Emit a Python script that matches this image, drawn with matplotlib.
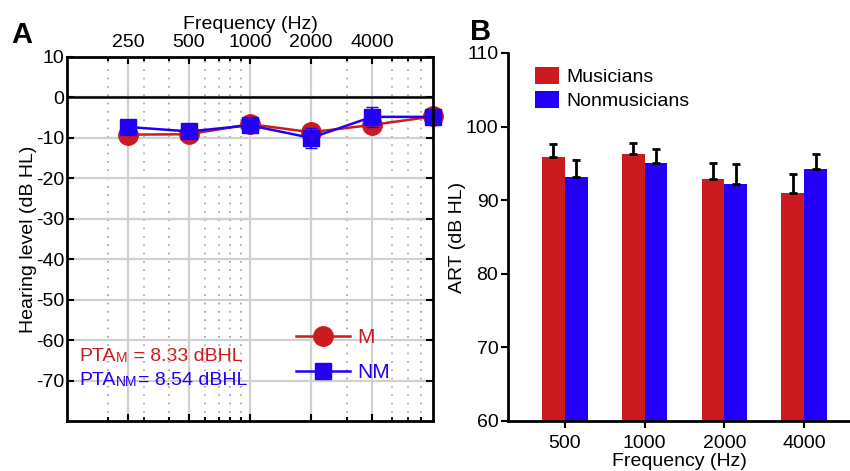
import matplotlib
matplotlib.use("Agg")
import matplotlib.pyplot as plt
from matplotlib.lines import Line2D
import numpy as np

plt.rcParams['font.family'] = ['Liberation Sans', 'DejaVu Sans']

# ---- Panel A data ----
freqs_a = [250, 500, 1000, 2000, 4000, 8000]
top_labels = ['250', '500', '1000', '2000', '4000']
m_vals = [-9.2, -9.1, -6.6, -8.6, -6.8, -4.7]
m_err = [1.2, 1.2, 1.2, 1.2, 1.5, 1.2]
nm_vals = [-7.3, -8.4, -6.9, -10.0, -4.8, -4.8]
nm_err = [1.0, 1.2, 1.0, 2.4, 2.5, 1.0]
minor_freqs = [200, 300, 400, 600, 700, 800, 900, 3000, 5000, 6000, 7000]
y_ticks_a = [10, 0, -10, -20, -30, -40, -50, -60, -70]

# ---- Panel B data ----
cats_b = ['500', '1000', '2000', '4000']
mus_vals = [95.9, 96.3, 92.9, 91.0]
mus_err = [1.8, 1.5, 2.1, 2.5]
non_vals = [93.2, 95.0, 92.2, 94.2]
non_err = [2.2, 1.9, 2.7, 2.1]

RED = '#CC1B1F'
BLUE = '#2200F5'
FS = 14

fig = plt.figure(figsize=(8.5, 4.71), dpi=100)

# ================= Panel A =================
axA = fig.add_axes([67/850, 1-421/471, 366/850, 364/471])
axA.set_axisbelow(True)
axA.set_xscale('log', base=2)
axA.set_xlim(125, 8000)
axA.set_ylim(-80, 10)

axA.set_xticks(freqs_a[:-1])
axA.set_xticklabels(top_labels)
axA.set_xticks(minor_freqs, minor=True)
axA.xaxis.set_minor_formatter(matplotlib.ticker.NullFormatter())
axA.set_yticks(y_ticks_a)
axA.set_yticklabels([str(v) for v in y_ticks_a])
axA.yaxis.set_minor_locator(matplotlib.ticker.NullLocator())

axA.grid(True, which='major', color='#d0d0d0', lw=1.6)
axA.grid(True, which='minor', axis='x', color='#a0a0a0', lw=1.2, ls=(0, (1, 4)))
axA.axhline(0, color='black', lw=1.8, zorder=2)

axA.xaxis.set_label_position('top')
axA.tick_params(axis='x', which='both', top=True, bottom=True, labeltop=True,
                labelbottom=False, direction='in', labelsize=FS, pad=4)
axA.tick_params(axis='x', which='major', length=5, width=1.5)
axA.tick_params(axis='x', which='minor', length=3, width=1.5)
axA.tick_params(axis='y', which='both', left=True, right=True, direction='in',
                labelsize=FS, length=5, width=1.5, pad=2)
for s in axA.spines.values():
    s.set_linewidth(2.0)
    s.set_zorder(5)
axA.set_xlabel('Frequency (Hz)', fontsize=FS, labelpad=4)
axA.set_ylabel('Hearing level (dB HL)', fontsize=FS, labelpad=-1)

axA.errorbar(freqs_a, m_vals, yerr=m_err, color=RED, marker='o', ms=14, lw=1.8,
             elinewidth=1.5, capsize=4, zorder=3, clip_on=False)
axA.errorbar(freqs_a, nm_vals, yerr=nm_err, color=BLUE, marker='s', ms=11, lw=1.8,
             elinewidth=1.5, capsize=4, zorder=4, clip_on=False)

handles = [Line2D([], [], color=RED, marker='o', ms=14, lw=1.8),
           Line2D([], [], color=BLUE, marker='s', ms=11, lw=1.8)]
axA.legend(handles, ['M', 'NM'], loc='upper left', bbox_to_anchor=(0.585, 0.295),
           frameon=False, fontsize=15, handlelength=2.6, labelcolor='linecolor',
           labelspacing=0.75, handletextpad=0.35, borderpad=0.2)

t1 = axA.text(0.035, 0.165, 'PTA', color=RED, fontsize=FS, transform=axA.transAxes)
t2 = axA.annotate('M', xy=(1, 0), xycoords=t1, va='bottom', color=RED, fontsize=10)
axA.annotate(' = 8.33 dBHL', xy=(1, 0), xycoords=t2, va='bottom', color=RED, fontsize=FS)
t4 = axA.text(0.035, 0.10, 'PTA', color=BLUE, fontsize=FS, transform=axA.transAxes)
t5 = axA.annotate('NM', xy=(1, 0), xycoords=t4, va='bottom', color=BLUE, fontsize=10)
axA.annotate('= 8.54 dBHL', xy=(1, 0), xycoords=t5, va='bottom', color=BLUE, fontsize=FS)

fig.text(11/850, 1-43/471, 'A', fontsize=21, fontweight='bold')

# ================= Panel B =================
axB = fig.add_axes([508/850, 1-421/471, 342/850, 368/471])
x = np.arange(len(cats_b))
w = 0.285
axB.bar(x - w/2, mus_vals, w, color=RED, label='Musicians', zorder=2)
axB.bar(x + w/2, non_vals, w, color=BLUE, label='Nonmusicians', zorder=2)
axB.errorbar(x - w/2, mus_vals, yerr=[np.zeros(4), mus_err], fmt='none',
             ecolor='black', elinewidth=2, capsize=3, capthick=2, zorder=3)
axB.errorbar(x + w/2, non_vals, yerr=[np.zeros(4), non_err], fmt='none',
             ecolor='black', elinewidth=2, capsize=3, capthick=2, zorder=3)
axB.set_ylim(60, 110)
axB.set_xlim(-0.7125, 3.575)
axB.set_xticks(x)
axB.set_xticklabels(cats_b)
axB.set_yticks([60, 70, 80, 90, 100, 110])
axB.spines['top'].set_visible(False)
axB.spines['right'].set_visible(False)
axB.spines['left'].set_linewidth(2)
axB.spines['bottom'].set_linewidth(2)
axB.tick_params(axis='both', direction='out', labelsize=FS, length=5, width=1.5, pad=2)
axB.tick_params(axis='x', pad=5)
axB.set_ylabel('ART (dB HL)', fontsize=FS, labelpad=0)
axB.set_xlabel('Frequency (Hz)', fontsize=FS, labelpad=1)
axB.legend(loc='upper left', bbox_to_anchor=(0.04, 1.0), frameon=False, fontsize=FS,
           handlelength=1.2, handleheight=1.0, handletextpad=0.4, labelspacing=0.25,
           borderpad=0.2)

fig.text(470/850, 1-40/471, 'B', fontsize=21, fontweight='bold')

fig.savefig('out.png', dpi=100)
